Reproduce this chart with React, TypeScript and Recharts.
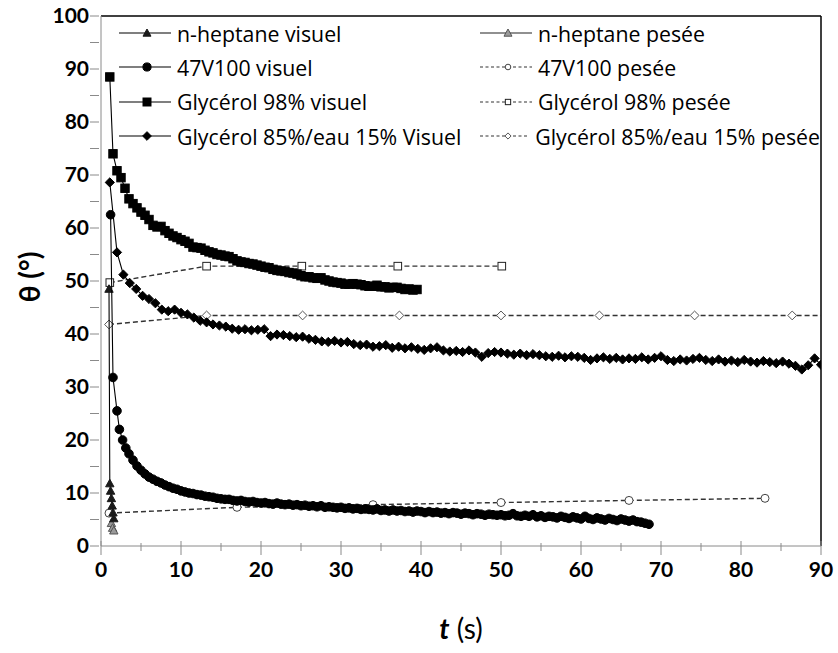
import React from "react";
import { ScatterChart, Scatter, XAxis, YAxis, Legend, ReferenceLine } from "recharts";

// n-heptane
const T_HEPT_VIS = [1.0, 1.1, 1.2, 1.3, 1.4, 1.5, 1.6];
const V_HEPT_VIS = [48.5, 11.8, 10.4, 9.0, 7.6, 6.3, 5.2];
const T_HEPT_PES = [1.3, 1.45, 1.6];
const V_HEPT_PES = [4.3, 3.4, 2.9];

// 47V100
const T_47_VIS = [
  1.2, 1.5, 2.0, 2.3, 2.7, 3.1, 3.5,
  4.0, 4.5, 5.0, 5.5, 6.0, 6.5, 7.0, 7.5, 8.0, 8.5,
  9.0, 9.5, 10.0, 10.5, 11.0, 11.5, 12.0, 12.5, 13.0, 13.5,
  14.0, 14.5, 15.0, 15.5, 16.0, 16.5, 17.0, 17.5, 18.0, 18.5,
  19.0, 19.5, 20.0, 20.5, 21.0, 21.5, 22.0, 22.5, 23.0, 23.5,
  24.0, 24.5, 25.0, 25.5, 26.0, 26.5, 27.0, 27.5, 28.0, 28.5,
  29.0, 29.5, 30.0, 30.5, 31.0, 31.5, 32.0, 32.5, 33.0, 33.5,
  34.0, 34.5, 35.0, 35.5, 36.0, 36.5, 37.0, 37.5, 38.0, 38.5,
  39.0, 39.5, 40.0, 40.5, 41.0, 41.5, 42.0, 42.5, 43.0, 43.5,
  44.0, 44.5, 45.0, 45.5, 46.0, 46.5, 47.0, 47.5, 48.0, 48.5,
  49.0, 49.5, 50.0, 50.5, 51.0, 51.5, 52.0, 52.5, 53.0, 53.5,
  54.0, 54.5, 55.0, 55.5, 56.0, 56.5, 57.0, 57.5, 58.0, 58.5,
  59.0, 59.5, 60.0, 60.5, 61.0, 61.5, 62.0, 62.5, 63.0, 63.5,
  64.0, 64.5, 65.0, 65.5, 66.0, 66.5, 67.0, 67.5, 68.0, 68.5,
];
const V_47_VIS = [
  62.5, 31.8, 25.5, 22.0, 20.0, 18.5, 17.4,
  16.2, 15.1, 14.3, 13.6, 13.0, 12.6, 12.2, 11.9, 11.5, 11.2,
  10.9, 10.7, 10.4, 10.2, 10.0, 9.9, 9.7, 9.6, 9.4, 9.3,
  9.2, 9.0, 8.9, 8.8, 8.8, 8.6, 8.5, 8.6, 8.4, 8.3,
  8.4, 8.2, 8.1, 8.2, 8.0, 7.9, 8.1, 7.9, 7.8, 7.9,
  7.7, 7.8, 7.6, 7.7, 7.5, 7.6, 7.4, 7.6, 7.3, 7.4,
  7.3, 7.2, 7.3, 7.1, 7.2, 7.0, 7.1, 6.9, 7.0, 6.9,
  6.8, 7.0, 6.7, 6.8, 6.6, 6.8, 6.6, 6.7, 6.5, 6.6,
  6.4, 6.6, 6.5, 6.3, 6.5, 6.3, 6.4, 6.2, 6.3, 6.1,
  6.3, 6.2, 6.0, 6.2, 6.1, 5.9, 6.1, 6.0, 5.8, 6.0,
  5.9, 5.8, 5.9, 5.7, 5.8, 6.1, 5.7, 5.6, 5.8, 5.6,
  5.9, 5.5, 5.7, 5.4, 5.6, 5.5, 5.3, 5.6, 5.4, 5.2,
  5.5, 5.3, 5.1, 5.6, 5.2, 5.0, 5.3, 5.1, 4.9, 5.2,
  5.0, 4.8, 5.1, 4.9, 4.7, 4.9, 4.6, 4.5, 4.3, 4.1,
];
const T_47_PES = [1.0, 17.0, 34.0, 50.0, 66.0, 83.0];
const V_47_PES = [6.2, 7.3, 7.8, 8.2, 8.6, 9.0];

// Glycérol 98%
const T_98_VIS = [
  1.1, 1.5, 2.0, 2.5, 3.0, 3.5, 4.0, 4.5, 5.0, 5.5,
  6.0, 6.5, 7.0, 7.5, 8.0, 8.5, 9.0, 9.5, 10.0, 10.5,
  11.0, 11.5, 12.0, 12.5, 13.0, 13.5, 14.0, 14.5, 15.0, 15.5,
  16.0, 16.5, 17.0, 17.5, 18.0, 18.5, 19.0, 19.5, 20.0, 20.5,
  21.0, 21.5, 22.0, 22.5, 23.0, 23.5, 24.0, 24.5, 25.0, 25.5,
  26.0, 26.5, 27.0, 27.5, 28.0, 28.5, 29.0, 29.5, 30.0, 30.5,
  31.0, 31.5, 32.0, 32.5, 33.0, 33.5, 34.0, 34.5, 35.0, 35.5,
  36.0, 36.5, 37.0, 37.5, 38.0, 38.5, 39.0, 39.5,
];
const V_98_VIS = [
  88.5, 74.0, 70.8, 69.5, 67.5, 65.5, 64.6, 63.8, 63.0, 62.4,
  61.6, 60.5, 60.2, 60.3, 59.5, 59.0, 58.5, 58.2, 57.8, 57.5,
  57.1, 56.4, 56.3, 56.2, 55.8, 55.5, 55.3, 55.0, 54.9, 54.7,
  54.6, 54.2, 53.8, 53.6, 53.5, 53.3, 53.2, 53.0, 52.8, 52.6,
  52.5, 52.2, 52.0, 51.9, 51.8, 51.6, 51.5, 51.3, 51.0, 50.8,
  50.8, 50.6, 50.5, 50.6, 50.2, 50.0, 49.8, 49.7, 49.6, 49.4,
  49.4, 49.5, 49.4, 49.3, 49.1, 49.0, 49.0, 49.2, 48.9, 48.9,
  48.7, 48.8, 48.8, 48.6, 48.4, 48.5, 48.3, 48.4,
];
const T_98_PES = [1.1, 13.2, 25.1, 37.1, 50.1];
const V_98_PES = [49.7, 52.8, 52.8, 52.8, 52.8];

// Glycérol 85% / eau 15%
const T_85_VIS = [
  1.1,
  2.0, 2.8, 3.6, 4.4, 5.2, 6.0, 6.8, 7.6, 8.4, 9.2,
  10.0, 10.8, 11.6, 12.4, 13.2, 14.0, 14.8, 15.6, 16.4, 17.2,
  18.0, 18.8, 19.6, 20.4, 21.2, 22.0, 22.8, 23.6, 24.4, 25.2,
  26.0, 26.8, 27.6, 28.4, 29.2, 30.0, 30.8, 31.6, 32.4, 33.2,
  34.0, 34.8, 35.6, 36.4, 37.2, 38.0, 38.8, 39.6, 40.4, 41.2,
  42.0, 42.8, 43.6, 44.4, 45.2, 46.0, 46.8, 47.6, 48.4, 49.2,
  50.0, 50.8, 51.6, 52.4, 53.2, 54.0, 54.8, 55.6, 56.4, 57.2,
  58.0, 58.8, 59.6, 60.4, 61.2, 62.0, 62.8, 63.6, 64.4, 65.2,
  66.0, 66.8, 67.6, 68.4, 69.2, 70.0, 70.8, 71.6, 72.4, 73.2,
  74.0, 74.8, 75.6, 76.4, 77.2, 78.0, 78.8, 79.6, 80.4, 81.2,
  82.0, 82.8, 83.6, 84.4, 85.2, 86.0, 86.8, 87.6, 88.4, 89.2,
  90.0,
];
const V_85_VIS = [
  68.6,
  55.4, 51.2, 49.6, 48.5, 47.2, 46.6, 45.8, 44.6, 44.3, 44.6,
  44.0, 43.7, 43.1, 42.5, 42.2, 41.8, 41.6, 41.4, 41.0, 40.8,
  40.9, 40.7, 40.8, 40.9, 39.6, 39.9, 39.8, 39.6, 39.4, 39.5,
  39.1, 38.9, 38.6, 38.5, 38.7, 38.4, 38.5, 38.1, 37.9, 38.0,
  37.6, 37.7, 37.9, 37.4, 37.6, 37.3, 37.5, 37.2, 37.0, 37.3,
  37.5, 36.9, 36.7, 36.8, 36.6, 36.9, 36.5, 35.7, 36.4, 36.6,
  36.5, 36.3, 36.1, 36.3, 36.0, 36.2, 36.0, 35.8, 35.7, 35.9,
  35.6, 35.8, 35.7, 35.5, 35.1, 35.4, 35.6, 35.3, 35.5, 35.2,
  35.4, 35.3, 35.6, 35.2, 35.5, 35.8, 35.1, 34.9, 35.2, 35.0,
  35.3, 35.5, 35.1, 34.9, 35.2, 34.8, 35.0, 34.7, 35.1, 34.8,
  34.6, 34.9, 34.7, 34.5, 34.8, 34.4, 34.0, 33.3, 34.1, 35.4,
  34.2,
];
const T_85_PES = [1.0, 13.2, 25.2, 37.3, 50.0, 62.3, 74.2, 86.4, 98.5];
const V_85_PES = [41.8, 43.5, 43.5, 43.5, 43.5, 43.5, 43.5, 43.5, 43.5];

const X_TICKS = [0, 5, 10, 15, 20, 25, 30, 35, 40, 45, 50, 55, 60, 65, 70, 75, 80, 85, 90];
const Y_TICKS = [0, 5, 10, 15, 20, 25, 30, 35, 40, 45, 50, 55, 60, 65, 70, 75, 80, 85, 90, 95, 100];

const FONT = "Lato, 'Open Sans', sans-serif";
const LEGEND_FONT = "'Open Sans', Lato, sans-serif";
const AXIS_GREY = "#8a8a8a";

type MarkerKind = "triangle" | "circle" | "square" | "diamond";

type SeriesDef = {
  name: string;
  t: number[];
  v: number[];
  marker: MarkerKind;
  fill: string;
  stroke: string;
  r: number;
  lineColor: string;
  dash?: string;
};

const zip = (t: number[], v: number[]) =>
  t.slice(0, Math.min(t.length, v.length)).map((x, i) => ({ x, y: v[i] }));

// legend order: row by row, visuel | pesée
const LEGEND_ROWS: [SeriesDef, SeriesDef][] = [
  [
    { name: "n-heptane visuel", t: T_HEPT_VIS, v: V_HEPT_VIS, marker: "triangle", fill: "#1a1a1a", stroke: "#1a1a1a", r: 4.2, lineColor: "#000" },
    { name: "n-heptane pesée", t: T_HEPT_PES, v: V_HEPT_PES, marker: "triangle", fill: "#9a9a9a", stroke: "#555", r: 4.2, lineColor: "#222" },
  ],
  [
    { name: "47V100 visuel", t: T_47_VIS, v: V_47_VIS, marker: "circle", fill: "#000", stroke: "#000", r: 4.3, lineColor: "#000" },
    { name: "47V100 pesée", t: T_47_PES, v: V_47_PES, marker: "circle", fill: "#fff", stroke: "#444", r: 4, lineColor: "#333", dash: "5 3" },
  ],
  [
    { name: "Glycérol 98% visuel", t: T_98_VIS, v: V_98_VIS, marker: "square", fill: "#000", stroke: "#000", r: 4.2, lineColor: "#000" },
    { name: "Glycérol 98% pesée", t: T_98_PES, v: V_98_PES, marker: "square", fill: "#fff", stroke: "#222", r: 3.8, lineColor: "#333", dash: "5 3" },
  ],
  [
    { name: "Glycérol 85%/eau 15% Visuel", t: T_85_VIS, v: V_85_VIS, marker: "diamond", fill: "#000", stroke: "#000", r: 4.6, lineColor: "#000" },
    { name: "Glycérol 85%/eau 15% pesée", t: T_85_PES, v: V_85_PES, marker: "diamond", fill: "#fff", stroke: "#555", r: 4.4, lineColor: "#333", dash: "5 3" },
  ],
];

const PESEE = LEGEND_ROWS.map((row) => row[1]);
const VISUEL = LEGEND_ROWS.map((row) => row[0]);

function Marker({ kind, cx, cy, r, fill, stroke }: { kind: MarkerKind; cx: number; cy: number; r: number; fill: string; stroke: string }) {
  if (cx == null || cy == null) return null;
  switch (kind) {
    case "circle":
      return <circle cx={cx} cy={cy} r={r} fill={fill} stroke={stroke} strokeWidth={1} />;
    case "square":
      return <rect x={cx - r} y={cy - r} width={r * 2} height={r * 2} fill={fill} stroke={stroke} strokeWidth={1} />;
    case "diamond":
      return (
        <polygon
          points={`${cx},${cy - r} ${cx + r},${cy} ${cx},${cy + r} ${cx - r},${cy}`}
          fill={fill}
          stroke={stroke}
          strokeWidth={1}
        />
      );
    default:
      return (
        <polygon
          points={`${cx},${cy - r} ${cx + r},${cy + r * 0.8} ${cx - r},${cy + r * 0.8}`}
          fill={fill}
          stroke={stroke}
          strokeWidth={1}
        />
      );
  }
}

function LegendSymbol({ s }: { s: SeriesDef }) {
  const scale = s.dash ? 0.7 : 0.95;
  return (
    <svg width={52} height={14} style={{ display: "block" }}>
      <line x1={0} y1={7} x2={52} y2={7} stroke={s.lineColor} strokeWidth={1.2} strokeDasharray={s.dash ? "3 2.5" : undefined} />
      <Marker kind={s.marker} cx={28} cy={7} r={s.r * scale} fill={s.fill} stroke={s.stroke} />
    </svg>
  );
}

function LegendBox() {
  return (
    <div style={{ fontFamily: LEGEND_FONT, fontSize: 21.3, color: "#000" }}>
      {LEGEND_ROWS.map((row, i) => (
        <div key={i} style={{ display: "flex", height: 34.3, alignItems: "center" }}>
          {row.map((s, j) => (
            <div key={j} style={{ display: "flex", alignItems: "center", width: j === 0 ? 361 : 340, whiteSpace: "nowrap" }}>
              <LegendSymbol s={s} />
              <span style={{ marginLeft: 6 }}>{s.name}</span>
            </div>
          ))}
        </div>
      ))}
    </div>
  );
}

function XTick(props: any) {
  const { x, y, payload } = props;
  const major = payload.value % 10 === 0;
  return (
    <g>
      <line x1={x} x2={x} y1={major ? y - 7 : y - 5} y2={major ? y + 7 : y + 3} stroke={AXIS_GREY} />
      {major && (
        <text x={x} y={y + 29} textAnchor="middle" fontFamily={FONT} fontWeight={700} fontSize={21} fill="#000">
          {payload.value}
        </text>
      )}
    </g>
  );
}

function YTick(props: any) {
  const { x, y, payload } = props;
  const major = payload.value % 10 === 0;
  return (
    <g>
      <line x1={x - 9} x2={x} y1={y} y2={y} stroke={AXIS_GREY} />
      {major && (
        <text x={x - 10} y={y + 7} textAnchor="end" fontFamily={FONT} fontWeight={700} fontSize={21} fill="#000">
          {payload.value}
        </text>
      )}
    </g>
  );
}

export default function App() {
  return (
    <div style={{ width: 838, height: 653, background: "#fff" }}>
      <style>{`body{margin:0;}`}</style>
      <ScatterChart width={838} height={653} margin={{ top: 16, right: 17, left: 41, bottom: 47 }}>
        <XAxis
          type="number"
          dataKey="x"
          domain={[0, 90]}
          allowDataOverflow
          ticks={X_TICKS}
          interval={0}
          height={60}
          stroke={AXIS_GREY}
          tickLine={false}
          tickSize={0}
          tick={<XTick />}
          label={{
            content: ({ viewBox }: any) => (
              <text
                x={viewBox.x + viewBox.width / 2}
                y={viewBox.y + 93}
                textAnchor="middle"
                fontFamily={FONT}
                fontSize={28}
                fill="#000"
              >
                <tspan fontStyle="italic" fontWeight={700}>t</tspan>
                <tspan> (s)</tspan>
              </text>
            ),
          }}
        />
        <YAxis
          type="number"
          dataKey="y"
          domain={[0, 100]}
          allowDataOverflow
          ticks={Y_TICKS}
          interval={0}
          width={60}
          stroke={AXIS_GREY}
          tickLine={false}
          tickSize={0}
          tick={<YTick />}
          label={{
            content: ({ viewBox }: any) => {
              const cx = viewBox.x - 12;
              const cy = viewBox.y + viewBox.height / 2 - 4;
              return (
                <text
                  x={cx}
                  y={cy}
                  transform={`rotate(-90 ${cx} ${cy})`}
                  textAnchor="middle"
                  dominantBaseline="central"
                  fontFamily={FONT}
                  fontWeight={700}
                  fontSize={28}
                  fill="#000"
                >
                  θ (°)
                </text>
              );
            },
          }}
        />
        <ReferenceLine y={100} stroke="#000" strokeWidth={1.5} />
        <ReferenceLine x={90} stroke="#000" strokeWidth={1.5} />
        {PESEE.map((s) => (
          <Scatter
            key={s.name}
            name={s.name}
            data={zip(s.t, s.v)}
            isAnimationActive={false}
            line={{ stroke: s.lineColor, strokeWidth: 1.4, strokeDasharray: s.dash }}
            shape={(p: any) => <Marker kind={s.marker} cx={p.cx} cy={p.cy} r={s.r} fill={s.fill} stroke={s.stroke} />}
          />
        ))}
        {VISUEL.map((s) => (
          <Scatter
            key={s.name}
            name={s.name}
            data={zip(s.t, s.v)}
            isAnimationActive={false}
            line={{ stroke: s.lineColor, strokeWidth: 1.1 }}
            shape={(p: any) => <Marker kind={s.marker} cx={p.cx} cy={p.cy} r={s.r} fill={s.fill} stroke={s.stroke} />}
          />
        ))}
        <Legend
          layout="vertical"
          align="center"
          verticalAlign="middle"
          wrapperStyle={{ top: 16, left: 119, width: 715, height: 140 }}
          content={() => <LegendBox />}
        />
      </ScatterChart>
    </div>
  );
}
